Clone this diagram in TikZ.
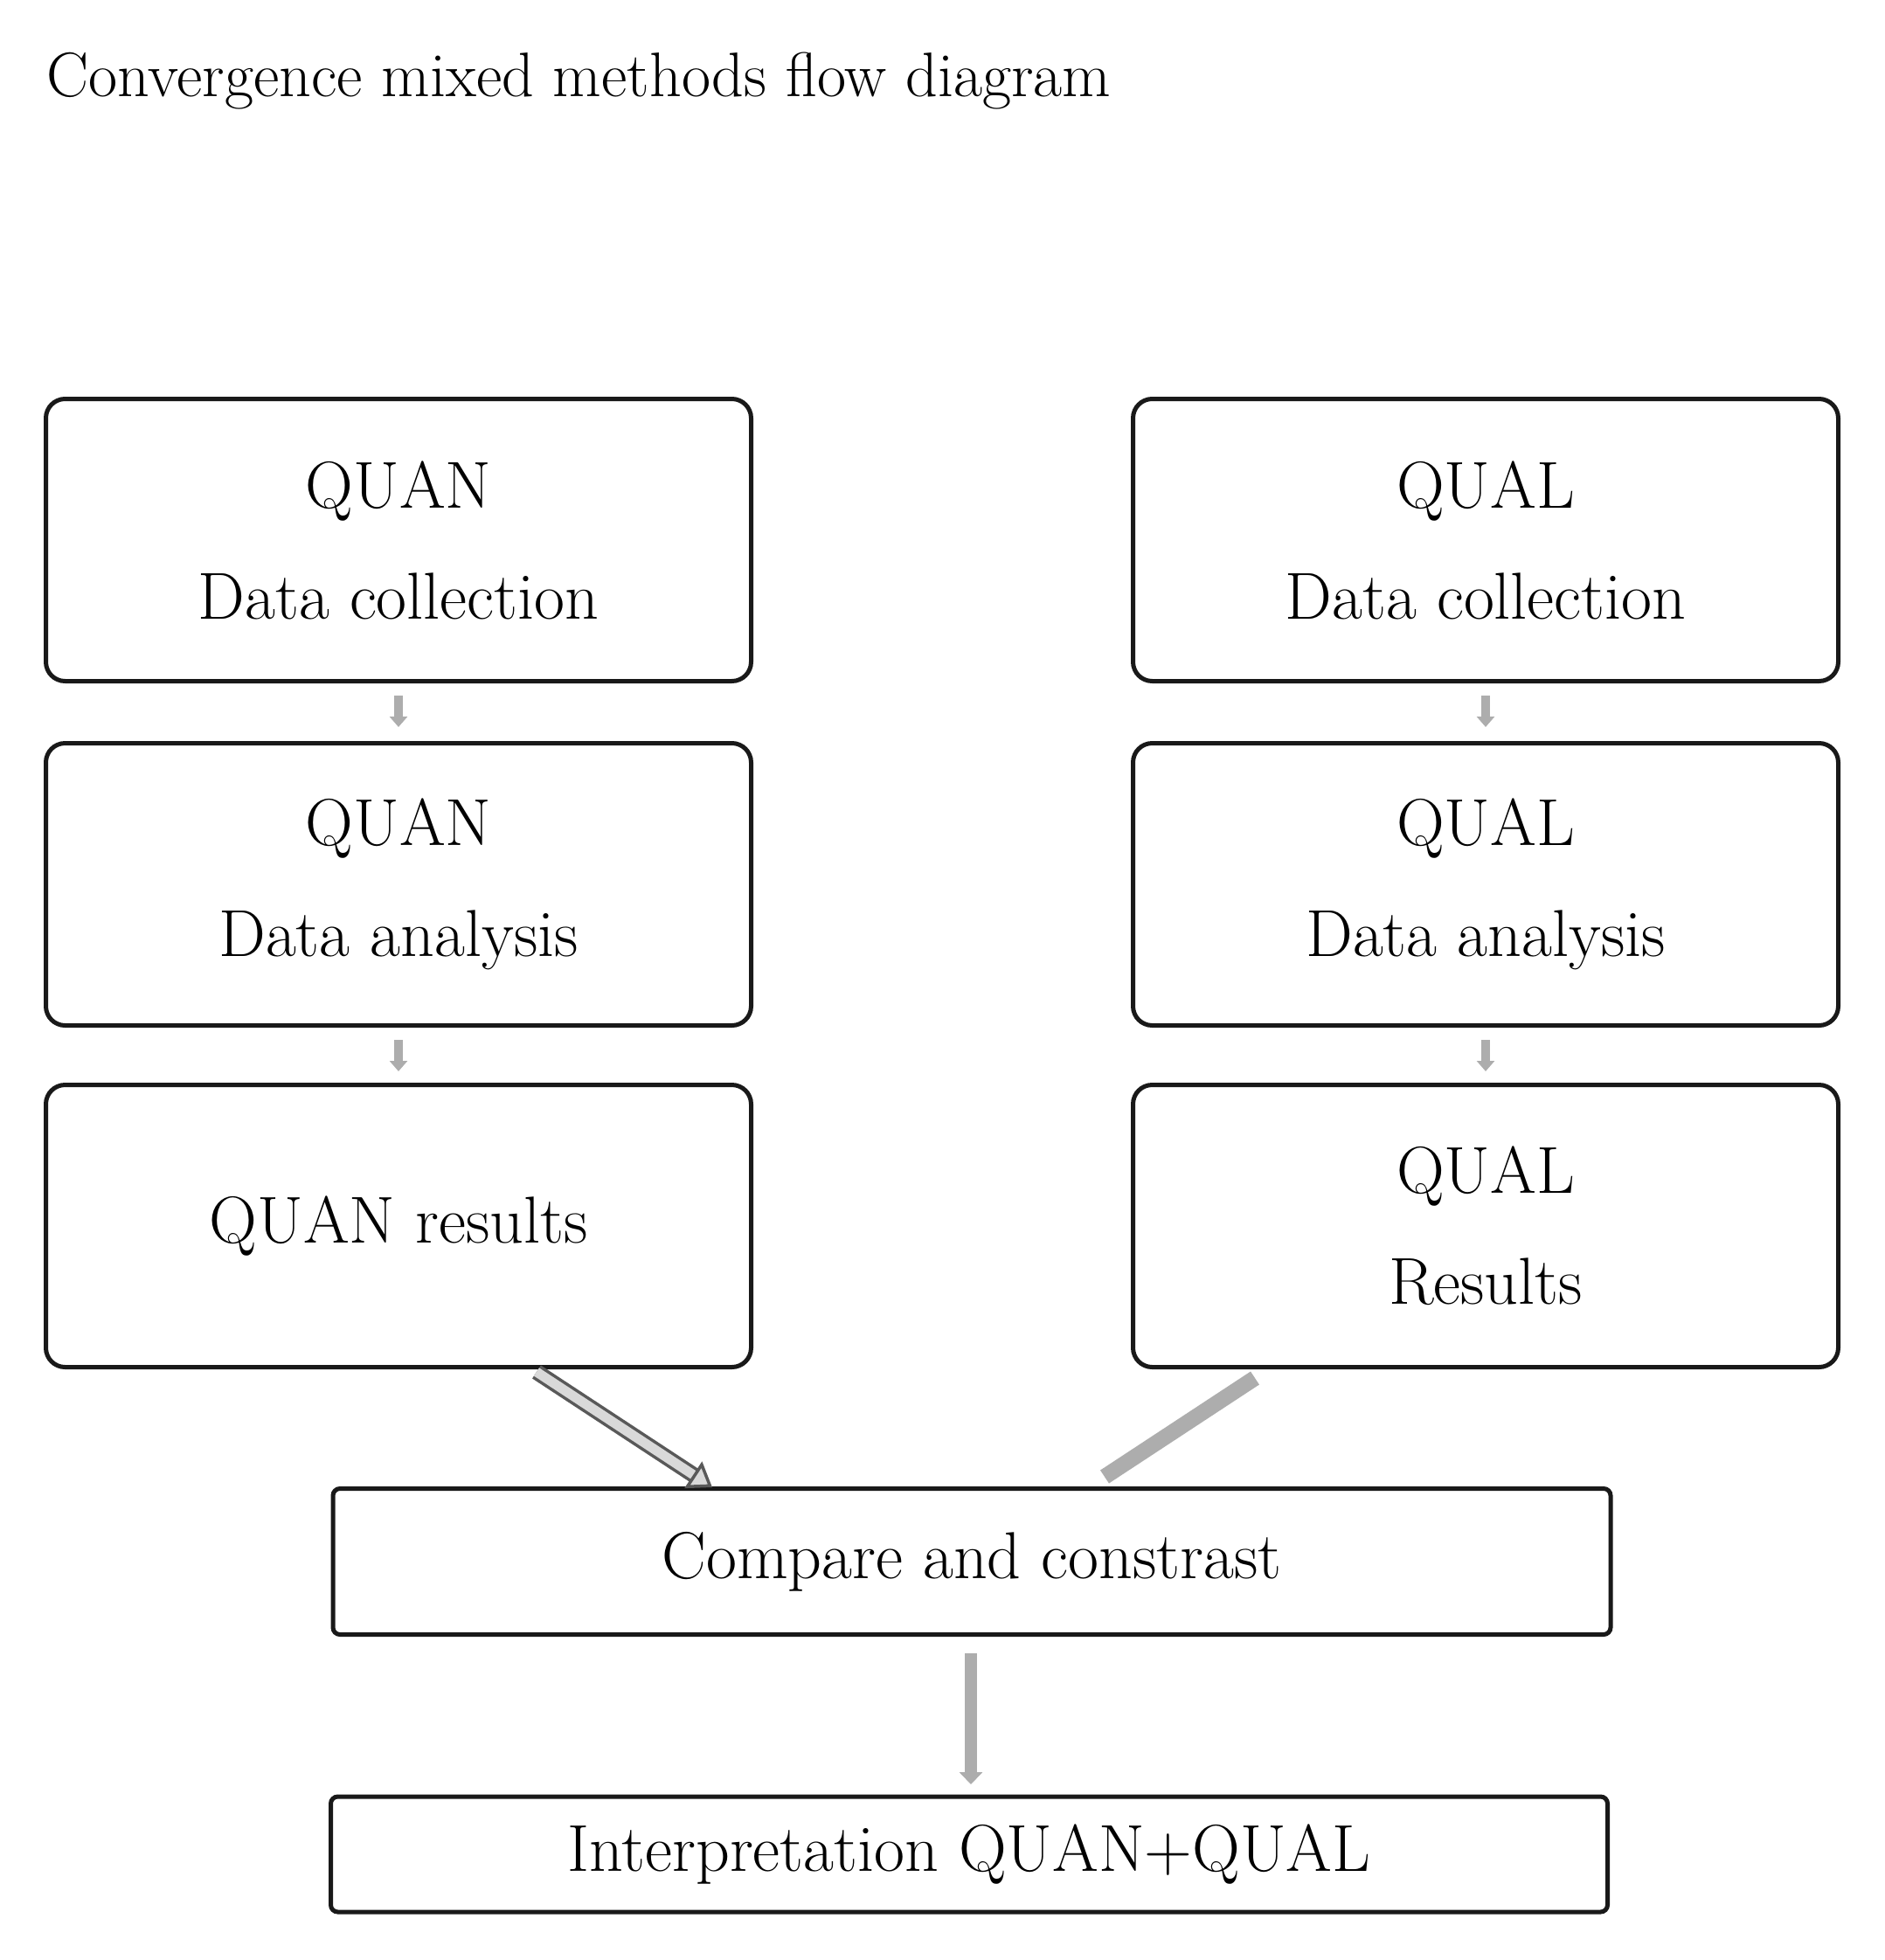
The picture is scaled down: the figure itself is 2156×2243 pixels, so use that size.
\documentclass[tikz,border=0pt]{standalone}
\usetikzlibrary{arrows.meta}
\begin{document}
\begin{tikzpicture}[x=1pt,y=-1pt,
  box/.style={draw=black!90,line width=5pt,rounded corners=22pt,minimum width=807pt,minimum height=323pt,align=center,font=\fontsize{76}{127}\selectfont},
  wide/.style={draw=black!90,line width=5pt,rounded corners=8pt,align=center,font=\fontsize{76}{127}\selectfont},
  small/.style={-{Triangle[width=20pt,length=12pt]},draw=black!32,line width=10pt}]
\useasboundingbox (0,0) rectangle (2156,2243);
\node[anchor=west,font=\fontsize{72}{80}\selectfont] (title) at (50,93) {Convergence mixed methods flow diagram};
\node[box] (a1) at (456,618) {QUAN\\Data collection};
\node[box] (a2) at (456,1012) {QUAN\\Data analysis};
\node[box] (a3) at (456,1403) {QUAN results};
\node[box] (b1) at (1700,618) {QUAL\\Data collection};
\node[box] (b2) at (1700,1012) {QUAL\\Data analysis};
\node[box] (b3) at (1700,1403) {QUAL\\Results};
\node[wide,minimum width=1462pt,minimum height=167pt] (c) at (1112,1787) {Compare and constrast};
\node[wide,minimum width=1461pt,minimum height=132pt] (d) at (1109,2122) {Interpretation QUAN+QUAL};
\draw[small] (a1.south) ++(0,14) coordinate (s1) -- ++(0,36) coordinate (e1);
\draw[small] (a2.south) ++(0,14) coordinate (s2) -- ++(0,36) coordinate (e2);
\draw[small] (b1.south) ++(0,14) coordinate (s3) -- ++(0,36) coordinate (e3);
\draw[small] (b2.south) ++(0,14) coordinate (s4) -- ++(0,36) coordinate (e4);
\coordinate (l0) at (614,1570);
\coordinate (l1) at (815,1702);
\draw[double=black!15,double distance=11pt,line width=3.5pt,draw=black!65,-{Triangle[open,fill=black!15,width=36pt,length=26pt]}] (l0) -- (l1);
\coordinate (r0) at (1436,1577);
\coordinate (r1) at (1264,1690);
\draw[draw=black!32,line width=18pt] (r0) -- (r1);
\coordinate (v0) at (1111,1892);
\coordinate (v1) at (1111,2042);
\draw[draw=black!32,line width=14pt,-{Triangle[width=26pt,length=14pt]}] (v0) -- (v1);
\end{tikzpicture}
\end{document}
